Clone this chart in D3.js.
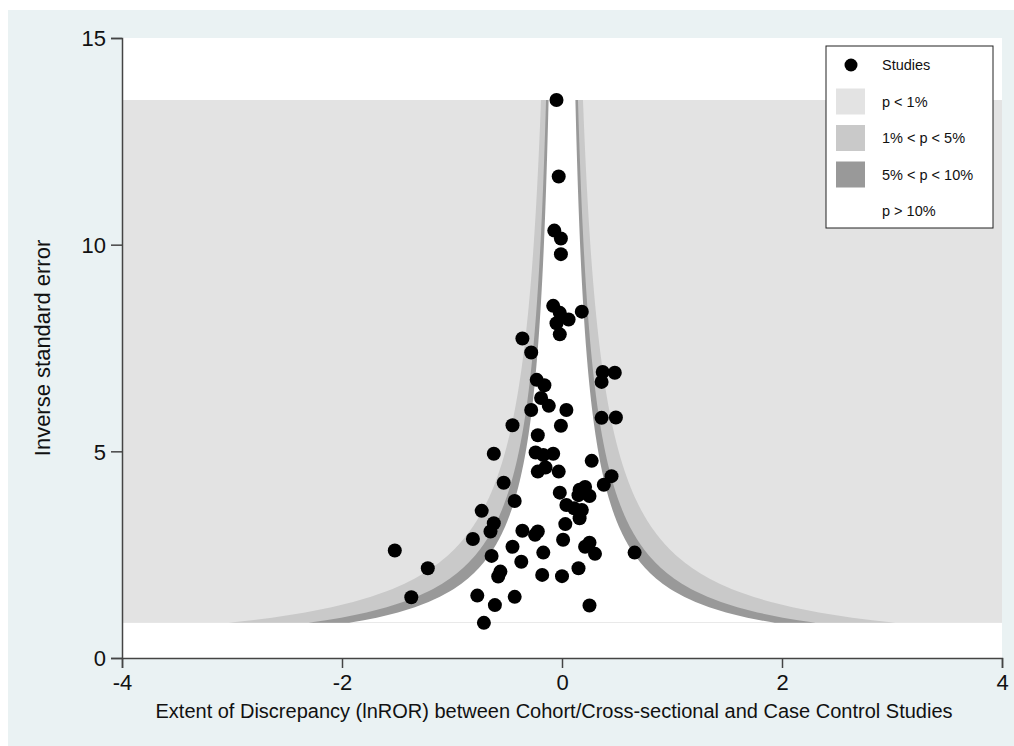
<!DOCTYPE html>
<html>
<head>
<meta charset="utf-8">
<script src="https://cdn.jsdelivr.net/npm/d3@7"></script>
<style>
  body { margin: 0; background: #fff; }
  svg { display: block; font-family: "Liberation Sans", Arial, sans-serif; }
</style>
</head>
<body>
<div id="chart"></div>
<script>
// study estimates: lnROR (x) and inverse standard error (y)
var lnROR = [
  -0.05, -0.03, -0.07, -0.01, -0.01,
  -0.08, -0.02, 0.06, -0.05, -0.02, 0.18,
  -0.36, -0.28, -0.23, -0.16, 0.37, 0.48, 0.36,
  -0.19, -0.12, -0.28, 0.04, 0.36, 0.49, -0.45, -0.01, -0.22,
  -0.62, -0.24, -0.17, -0.08, 0.27,
  -0.22, -0.15, -0.03, -0.53, 0.45, 0.38,
  -0.02, 0.16, 0.21, 0.15, 0.25, -0.43, 0.04, 0.11, 0.18, 0.16,
  -0.73, -0.62, -0.65, -0.36, -0.22, -0.245, 0.03, -0.81,
  -1.52, 0.01, -0.45, -0.64, -0.17, 0.21, 0.25, 0.30, 0.66,
  -0.37, -1.22, -0.56, -0.58, -0.18, 0.00, 0.15,
  -1.37, -0.77, -0.43, -0.61, 0.25, -0.71
];
var invSE = [
  13.50, 11.65, 10.34, 10.15, 9.77,
  8.52, 8.35, 8.19, 8.10, 7.83, 8.38,
  7.73, 7.39, 6.73, 6.60, 6.92, 6.90, 6.68,
  6.29, 6.10, 6.00, 6.00, 5.81, 5.82, 5.63, 5.62, 5.39,
  4.94, 4.97, 4.91, 4.94, 4.77,
  4.51, 4.61, 4.51, 4.24, 4.40, 4.19,
  4.00, 4.07, 4.14, 3.94, 3.92, 3.80, 3.70, 3.62, 3.58, 3.38,
  3.56, 3.26, 3.06, 3.08, 3.06, 2.98, 3.24, 2.88,
  2.60, 2.86, 2.69, 2.47, 2.55, 2.69, 2.79, 2.52, 2.55,
  2.33, 2.17, 2.09, 1.97, 2.01, 1.98, 2.17,
  1.47, 1.51, 1.48, 1.28, 1.27, 0.85
];

// significance contours (two-sided z thresholds) and their fills
var contourZ = [2.576, 1.96, 1.645];
var contourFill = ["#c9c9c9", "#999999", "#ffffff"];
var legendLabels = ["Studies", "p < 1%", "1% < p < 5%", "5% < p < 10%", "p > 10%"];
var legendFill = [null, "#e3e3e3", "#c9c9c9", "#999999", null];

var xTicks = [-4, -2, 0, 2, 4];
var yTicks = [0, 5, 10, 15];

var W = 1014, H = 746;
var margin = {top: 38, right: 12, bottom: 88, left: 122};

var svg = d3.select("#chart").append("svg")
  .attr("width", W).attr("height", H);

// outer background
svg.append("rect").attr("x", 8).attr("y", 10)
  .attr("width", W - 8).attr("height", H - 10)
  .attr("fill", "#eaf2f3");

var x = d3.scaleLinear().domain([-4, 4]).range([margin.left, W - margin.right]);
var y = d3.scaleLinear().domain([0, 15]).range([H - margin.bottom, margin.top]);

// plot region
svg.append("rect")
  .attr("x", x(-4)).attr("y", y(15))
  .attr("width", x(4) - x(-4)).attr("height", y(0) - y(15))
  .attr("fill", "#fff");

var yMin = d3.min(invSE), yMax = d3.max(invSE);

// p < 1% background
svg.append("rect")
  .attr("x", x(-4)).attr("y", y(yMax))
  .attr("width", x(4) - x(-4)).attr("height", y(yMin) - y(yMax))
  .attr("fill", "#e3e3e3");

// contour bands: |x| < z * SE, SE = 1 / invSE
var steps = d3.range(0, 201).map(function(i) { return yMin + (yMax - yMin) * i / 200; });
contourZ.forEach(function(z, k) {
  var area = d3.area()
    .y(function(d) { return y(d); })
    .x0(function(d) { return x(Math.max(-4, -z / d)); })
    .x1(function(d) { return x(Math.min(4, z / d)); });
  svg.append("path").datum(steps)
    .attr("d", area)
    .attr("fill", contourFill[k]);
});

// points
var pts = lnROR.map(function(v, i) { return {x: v, y: invSE[i]}; });
svg.append("g").selectAll("circle")
  .data(pts).enter().append("circle")
  .attr("cx", function(d) { return x(d.x); })
  .attr("cy", function(d) { return y(d.y); })
  .attr("r", 7)
  .attr("fill", "#000");

// axes (plain hyphen for negatives, as in the original)
var fmt = function(d) { return String(d); };
var xAxis = svg.append("g")
  .attr("transform", "translate(0," + y(0) + ")")
  .call(d3.axisBottom(x).tickValues(xTicks).tickSize(10).tickPadding(6).tickFormat(fmt));
var yAxis = svg.append("g")
  .attr("transform", "translate(" + x(-4) + ",0)")
  .call(d3.axisLeft(y).tickValues(yTicks).tickSize(11).tickPadding(5).tickFormat(fmt));
[xAxis, yAxis].forEach(function(a) {
  a.select(".domain").attr("stroke", "#444").attr("stroke-width", 1.5);
  a.selectAll(".tick line").attr("stroke", "#444").attr("stroke-width", 1.5);
  a.selectAll(".tick text").attr("fill", "#111").style("font-size", "22px")
    .style("font-family", "Liberation Sans, Arial, sans-serif");
});
yAxis.selectAll(".tick text").attr("dy", "0.36em");

svg.append("text")
  .attr("x", 554).attr("y", 718)
  .attr("text-anchor", "middle")
  .style("font-size", "20px").attr("fill", "#111")
  .text("Extent of Discrepancy (lnROR) between Cohort/Cross-sectional and Case Control Studies");

svg.append("text")
  .attr("transform", "translate(50," + 348 + ") rotate(-90)")
  .attr("text-anchor", "middle")
  .style("font-size", "22px").attr("fill", "#111")
  .text("Inverse standard error");

// legend
var lg = svg.append("g").attr("transform", "translate(826,46)");
lg.append("rect").attr("width", 167).attr("height", 182)
  .attr("fill", "#fff").attr("stroke", "#222").attr("stroke-width", 1);
legendLabels.forEach(function(lab, i) {
  var cy = 19 + i * 36.5;
  if (i === 0) {
    lg.append("circle").attr("cx", 25).attr("cy", cy).attr("r", 6.5).attr("fill", "#000");
  } else if (legendFill[i]) {
    lg.append("rect").attr("x", 10).attr("y", cy - 13).attr("width", 29).attr("height", 26)
      .attr("fill", legendFill[i]);
  }
  lg.append("text").attr("x", 56).attr("y", cy).attr("dy", "0.36em")
    .style("font-size", "14.5px").attr("fill", "#111").text(lab);
});
</script>
</body>
</html>
